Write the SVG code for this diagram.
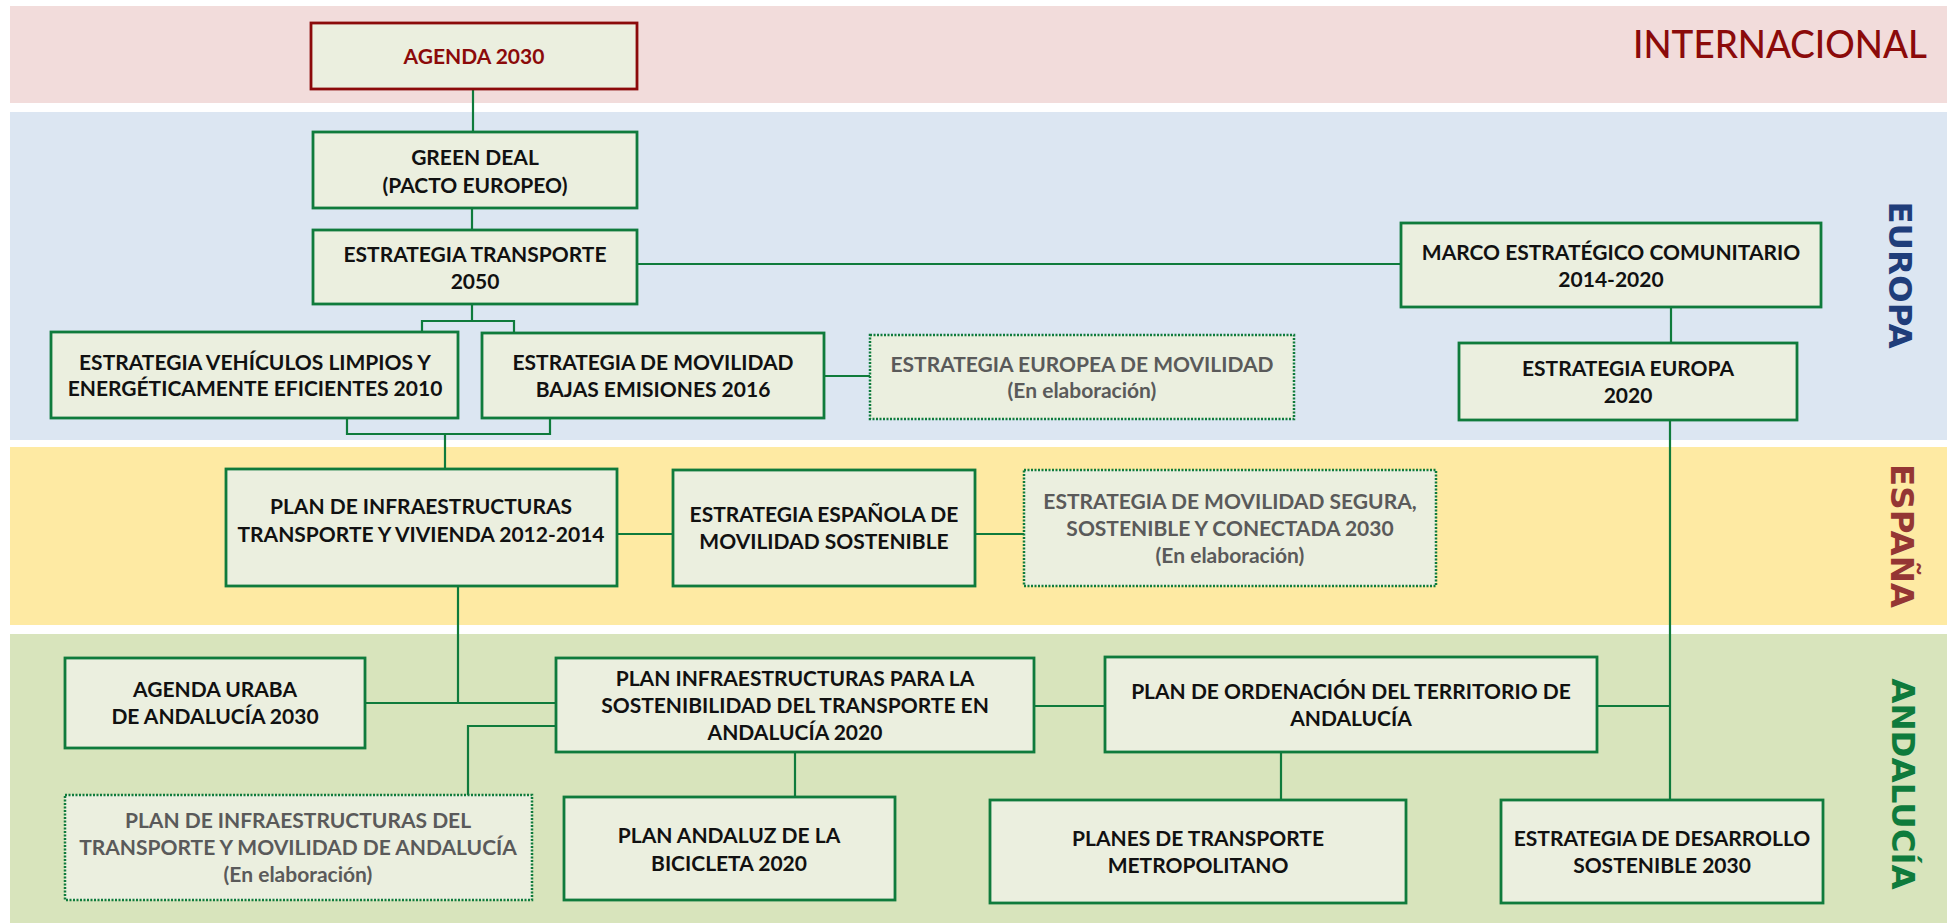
<svg xmlns="http://www.w3.org/2000/svg" width="1950" height="924" viewBox="0 0 1950 924">
<style>
.band{stroke:none}
.box{fill:#EBEFDF;stroke:#0F7B3C;stroke-width:2.8}
.dot{fill:#EBEFDF;stroke:#0F7B3C;stroke-width:2.5;stroke-dasharray:2 1.5}
.red{fill:#EBEFDF;stroke:#8B0A0A;stroke-width:2.8}
.t{font-family:Lato,"Liberation Sans",sans-serif;font-weight:700;font-size:21px;fill:#111;text-anchor:middle}
.g{fill:#5A5A5A}
.tr{fill:#8B0A0A}
.v{font-family:"DejaVu Sans",sans-serif;font-weight:700;font-size:32.5px;text-anchor:middle}
.conn path{fill:none;stroke:#0F7B3C;stroke-width:2.2}
</style>
<rect width="1950" height="924" fill="#FFFFFF"/>
<g id="bands">
<rect class="band" x="10" y="6" width="1937" height="97" fill="#F2DCDB"/>
<rect class="band" x="10" y="112" width="1937" height="328" fill="#DCE6F2"/>
<rect class="band" x="10" y="447" width="1937" height="178" fill="#FEEAA3"/>
<rect class="band" x="10" y="634" width="1937" height="289" fill="#D8E4BC"/>
<text x="1927" y="58" font-family="Lato,'Liberation Sans',sans-serif" font-size="38" font-weight="500" fill="#8B0A0A" text-anchor="end" textLength="294" lengthAdjust="spacingAndGlyphs">INTERNACIONAL</text>
<text class="v" transform="translate(1889,275) rotate(90)" fill="#1F3D7A">EUROPA</text>
<text class="v" transform="translate(1891,536) rotate(90)" fill="#943634">ESPAÑA</text>
<text class="v" transform="translate(1892,784) rotate(90)" fill="#0F7B3C">ANDALUCÍA</text>
</g>
<g id="connectors" class="conn">
<path d="M473,89 V132"/>
<path d="M472,208 V230"/>
<path d="M472,304 V321 M422,332 V321 H514 V333"/>
<path d="M347,418 V434 H550 V418 M445,434 V469"/>
<path d="M637,264 H1401"/>
<path d="M1671,307 V343"/>
<path d="M1670,420 V800"/>
<path d="M824,376 H870"/>
<path d="M617,534 H673"/>
<path d="M975,534 H1024"/>
<path d="M458,586 V703"/>
<path d="M365,703 H556"/>
<path d="M556,726 H468 V795"/>
<path d="M795,752 V797"/>
<path d="M1034,706 H1105"/>
<path d="M1597,706 H1670"/>
<path d="M1281,752 V800"/>
</g>
<g id="agenda2030"><rect class="red" x="311" y="23" width="326" height="66"/><text class="t tr" x="474" y="64">AGENDA 2030</text></g>
<g id="greendeal"><rect class="box" x="313" y="132" width="324" height="76"/><text class="t" x="475" y="165">GREEN DEAL</text><text class="t" x="475" y="193">(PACTO EUROPEO)</text></g>
<g id="transporte2050"><rect class="box" x="313" y="230" width="324" height="74"/><text class="t" x="475" y="262">ESTRATEGIA TRANSPORTE</text><text class="t" x="475" y="289">2050</text></g>
<g id="marco"><rect class="box" x="1401" y="223" width="420" height="84"/><text class="t" x="1611" y="260">MARCO ESTRATÉGICO COMUNITARIO</text><text class="t" x="1611" y="287">2014-2020</text></g>
<g id="europa2020"><rect class="box" x="1459" y="343" width="338" height="77"/><text class="t" x="1628" y="376">ESTRATEGIA EUROPA</text><text class="t" x="1628" y="403">2020</text></g>
<g id="vehiculos"><rect class="box" x="51" y="332" width="407" height="86"/><text class="t" x="255" y="370">ESTRATEGIA VEHÍCULOS LIMPIOS Y</text><text class="t" x="255" y="396">ENERGÉTICAMENTE EFICIENTES 2010</text></g>
<g id="bajasemisiones"><rect class="box" x="482" y="333" width="342" height="85"/><text class="t" x="653" y="370">ESTRATEGIA DE MOVILIDAD</text><text class="t" x="653" y="397">BAJAS EMISIONES 2016</text></g>
<g id="europea"><rect class="dot" x="870" y="335" width="424" height="84"/><text class="t g" x="1082" y="372">ESTRATEGIA EUROPEA DE MOVILIDAD</text><text class="t g" x="1082" y="398">(En elaboración)</text></g>
<g id="pitvi"><rect class="box" x="226" y="469" width="391" height="117"/><text class="t" x="421" y="514">PLAN DE INFRAESTRUCTURAS</text><text class="t" x="421" y="542">TRANSPORTE Y VIVIENDA 2012-2014</text></g>
<g id="espanola"><rect class="box" x="673" y="470" width="302" height="116"/><text class="t" x="824" y="522">ESTRATEGIA ESPAÑOLA DE</text><text class="t" x="824" y="549">MOVILIDAD SOSTENIBLE</text></g>
<g id="segura"><rect class="dot" x="1024" y="470" width="412" height="116"/><text class="t g" x="1230" y="509">ESTRATEGIA DE MOVILIDAD SEGURA,</text><text class="t g" x="1230" y="536">SOSTENIBLE Y CONECTADA 2030</text><text class="t g" x="1230" y="563">(En elaboración)</text></g>
<g id="uraba"><rect class="box" x="65" y="658" width="300" height="90"/><text class="t" x="215" y="697">AGENDA URABA</text><text class="t" x="215" y="724">DE ANDALUCÍA 2030</text></g>
<g id="pista"><rect class="box" x="556" y="658" width="478" height="94"/><text class="t" x="795" y="686">PLAN INFRAESTRUCTURAS PARA LA</text><text class="t" x="795" y="713">SOSTENIBILIDAD DEL TRANSPORTE EN</text><text class="t" x="795" y="740">ANDALUCÍA 2020</text></g>
<g id="pitma"><rect class="dot" x="65" y="795" width="467" height="105"/><text class="t g" x="298" y="828">PLAN DE INFRAESTRUCTURAS DEL</text><text class="t g" x="298" y="855">TRANSPORTE Y MOVILIDAD DE ANDALUCÍA</text><text class="t g" x="298" y="882">(En elaboración)</text></g>
<g id="bicicleta"><rect class="box" x="564" y="797" width="331" height="103"/><text class="t" x="729" y="843">PLAN ANDALUZ DE LA</text><text class="t" x="729" y="871">BICICLETA 2020</text></g>
<g id="pota"><rect class="box" x="1105" y="657" width="492" height="95"/><text class="t" x="1351" y="699">PLAN DE ORDENACIÓN DEL TERRITORIO DE</text><text class="t" x="1351" y="726">ANDALUCÍA</text></g>
<g id="metropolitano"><rect class="box" x="990" y="800" width="416" height="103"/><text class="t" x="1198" y="846">PLANES DE TRANSPORTE</text><text class="t" x="1198" y="873">METROPOLITANO</text></g>
<g id="desarrollo"><rect class="box" x="1501" y="800" width="322" height="103"/><text class="t" x="1662" y="846">ESTRATEGIA DE DESARROLLO</text><text class="t" x="1662" y="873">SOSTENIBLE 2030</text></g>
</svg>
